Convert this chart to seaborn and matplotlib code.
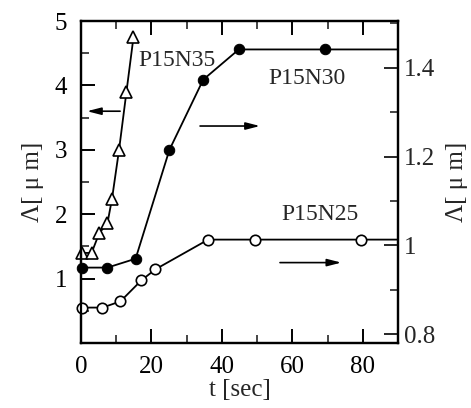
import matplotlib
matplotlib.use("Agg")
import matplotlib.pyplot as plt
import seaborn as sns
import numpy as np
from matplotlib.ticker import MultipleLocator

# ---- data ----
# P15N35 (open triangles, left axis)
t_n35 = [0.4, 3.0, 5.2, 7.5, 8.8, 10.8, 12.9, 14.9]
lam_n35 = [1.40, 1.40, 1.71, 1.86, 2.24, 3.00, 3.90, 4.75]
# P15N30 (filled circles, right axis); last point only continues the line
t_n30 = [0.4, 7.5, 15.5, 25.1, 34.7, 44.8, 69.2, 90.0]
lam_n30 = [0.950, 0.950, 0.970, 1.215, 1.373, 1.441, 1.441, 1.441]
# P15N25 (open circles, right axis); last point only continues the line
t_n25 = [0.4, 6.1, 11.2, 17.1, 21.1, 36.1, 49.5, 79.5, 90.0]
lam_n25 = [0.860, 0.860, 0.874, 0.921, 0.946, 1.013, 1.013, 1.013, 1.013]

x_ticks = [0, 20, 40, 60, 80]
left_ticks = [1, 2, 3, 4, 5]
right_ticks = [0.8, 1.0, 1.2, 1.4]
right_ticklabels = ["0.8", "1", "1.2", "1.4"]

sns.set_theme(style="ticks")
plt.rcParams["font.family"] = ["Liberation Serif", "DejaVu Serif"]

fig = plt.figure(figsize=(4.71, 4.08), dpi=100)
ax = fig.add_axes([0.172, 0.159, 0.673, 0.7895])
ax2 = ax.twinx()

lw = 1.3
sns.lineplot(x=t_n35, y=lam_n35, ax=ax, color="black", linewidth=lw,
             marker="^", markersize=9, markerfacecolor="white",
             markeredgecolor="black", markeredgewidth=1.2,
             errorbar=None, clip_on=False)
sns.lineplot(x=t_n30, y=lam_n30, ax=ax2, color="black", linewidth=lw,
             marker="o", markersize=7.5, markerfacecolor="black",
             markeredgecolor="black", markevery=list(range(len(t_n30) - 1)),
             errorbar=None, clip_on=False)
sns.lineplot(x=t_n25, y=lam_n25, ax=ax2, color="black", linewidth=lw,
             marker="o", markersize=7.5, markerfacecolor="white",
             markeredgecolor="black", markeredgewidth=1.2,
             markevery=list(range(len(t_n25) - 1)),
             errorbar=None, clip_on=False)

ax.set_xlim(0, 90)
ax.set_ylim(0, 5)
ax2.set_ylim(0.78, 1.505)

fs = 18
ax.set_xticks(x_ticks)
ax.set_xticklabels([str(v) for v in x_ticks], fontsize=fs)
ax.xaxis.set_minor_locator(MultipleLocator(10))
ax.set_yticks(left_ticks)
ax.set_yticklabels([str(v) for v in left_ticks], fontsize=fs)
ax.yaxis.set_minor_locator(MultipleLocator(0.5))
ax2.set_yticks(right_ticks)
ax2.set_yticklabels(right_ticklabels, fontsize=fs)
ax2.yaxis.set_minor_locator(MultipleLocator(0.1))

ax.tick_params(axis="x", which="major", direction="in", length=10, width=1.4,
               top=True, pad=9, colors="black")
ax.tick_params(axis="y", which="major", direction="in", length=10, width=1.4,
               pad=10, colors="black")
ax.tick_params(axis="both", which="minor", direction="in", length=6, width=1.2,
               top=True)
ax.tick_params(axis="y", right=False, which="both")
ax2.tick_params(axis="y", which="major", direction="in", length=10, width=1.4, pad=4)
ax2.tick_params(axis="y", which="minor", direction="in", length=6, width=1.2)

for a in (ax, ax2):
    for s in a.spines.values():
        s.set_linewidth(1.6)
        s.set_color("black")

ax.set_xlabel("t [sec]", fontsize=fs, labelpad=1)
ax.set_ylabel("Λ[ μ m]", fontsize=fs, labelpad=8)
ax2.set_ylabel("Λ[ μ m]", fontsize=fs, rotation=90, labelpad=8)

# labels
ax.text(16.2, 4.39, "P15N35", fontsize=fs - 1, va="center", ha="left")
ax.text(53.1, 4.11, "P15N30", fontsize=fs - 1, va="center", ha="left")
ax.text(57.0, 2.00, "P15N25", fontsize=fs - 1, va="center", ha="left")

arrow = dict(arrowstyle="-|>,head_length=0.7,head_width=0.18", color="black", lw=1.2,
             shrinkA=0, shrinkB=0)
ax.annotate("", xy=(1.7, 3.60), xytext=(11.1, 3.60), arrowprops=arrow)
ax.annotate("", xy=(50.8, 3.37), xytext=(33.8, 3.37), arrowprops=arrow)
ax.annotate("", xy=(73.9, 1.25), xytext=(56.5, 1.25), arrowprops=arrow)

fig.savefig("out.png", dpi=100)
